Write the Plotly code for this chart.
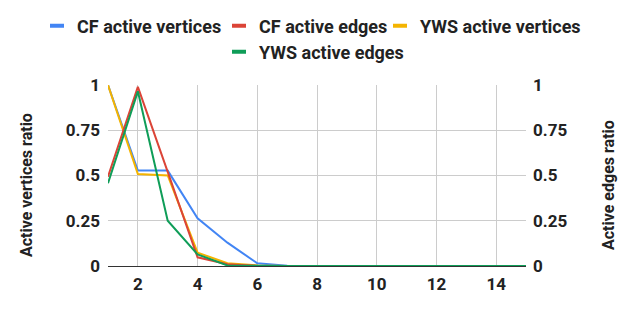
import plotly.graph_objects as go

iterations = list(range(1, 16))
cf_vertices = [1.0, 0.527, 0.527, 0.264, 0.129, 0.015, 0.002, 0, 0, 0, 0, 0, 0, 0, 0]
cf_edges = [0.493, 0.99, 0.52, 0.048, 0.01, 0.001, 0, 0, 0, 0, 0, 0, 0, 0, 0]
yws_vertices = [1.0, 0.508, 0.50, 0.074, 0.015, 0.003, 0, 0, 0, 0, 0, 0, 0, 0, 0]
yws_edges = [0.457, 0.965, 0.25, 0.064, 0.003, 0, 0, 0, 0, 0, 0, 0, 0, 0, 0]

series_names = ["CF active vertices", "CF active edges", "YWS active vertices", "YWS active edges"]
series_colors = ["#4285F4", "#DB4437", "#F4B400", "#0F9D58"]
series_axes = ["y", "y2", "y", "y2"]
series_values = [cf_vertices, cf_edges, yws_vertices, yws_edges]

y_ticks = [0, 0.25, 0.5, 0.75, 1]
y_tick_labels = ["0", "0.25", "0.5", "0.75", "1"]
x_ticks = [2, 4, 6, 8, 10, 12, 14]

# legend placement (container pixels): left edge of entry, row centre
legend_ids = ["legend", "legend2", "legend3", "legend4"]
legend_left_px = [29, 211, 372, 211]
legend_row_px = [18, 18, 18, 44]

fig = go.Figure()
for name, color, ax, vals in zip(series_names, series_colors, series_axes, series_values):
    fig.add_trace(go.Scatter(x=iterations, y=vals, name=name, mode="lines",
                             line=dict(color=color, width=2), yaxis=ax,
                             showlegend=False, legendgroup=name))
for name, color, lg in zip(series_names, series_colors, legend_ids):
    fig.add_trace(go.Scatter(x=[None], y=[None], name=name, mode="markers",
                             marker=dict(symbol="line-ew", size=10, color=color,
                                         line=dict(color=color, width=4)),
                             legend=lg, legendgroup=name, showlegend=True))

tickfont = dict(family="Roboto", size=17, color="#222222", weight="bold")
titlefont = dict(family="Roboto", size=16, color="#222222", weight="bold")
legendfont = dict(family="Roboto", size=18, color="#222222", weight="bold")

W, H = 635, 313
legends = {}
for lg, lx, ly in zip(legend_ids, legend_left_px, legend_row_px):
    legends[lg] = dict(orientation="h", x=lx / W, xanchor="left", xref="container",
                       y=1 - ly / H, yanchor="middle", yref="container",
                       font=legendfont, itemwidth=30, borderwidth=0,
                       bgcolor="rgba(0,0,0,0)")

fig.update_layout(
    width=W, height=H,
    margin=dict(l=100, r=117, t=77, b=55, autoexpand=False),
    plot_bgcolor="white", paper_bgcolor="white",
    font=dict(family="Roboto", color="#222222"),
    showlegend=True,
    xaxis=dict(range=[1, 15], tickvals=x_ticks, showgrid=True, gridcolor="#cccccc",
               zeroline=False, tickfont=tickfont, ticks="", showline=False,
               automargin=False, ticklabelstandoff=6),
    yaxis=dict(range=[0, 1], tickvals=y_ticks, ticktext=y_tick_labels, showgrid=True,
               gridcolor="#cccccc", zeroline=True, zerolinecolor="#333333", zerolinewidth=1,
               tickfont=tickfont, automargin=False, ticks="", ticklabelstandoff=7),
    yaxis2=dict(range=[0, 1], tickvals=y_ticks, ticktext=y_tick_labels, overlaying="y",
                side="right", showgrid=False, zeroline=False, tickfont=tickfont,
                automargin=False, ticks="", ticklabelstandoff=6),
    annotations=[
        dict(text="Active vertices ratio", textangle=-90, xref="paper", yref="paper",
             x=0, y=0.5, xanchor="center", yanchor="middle", xshift=-81.5, yshift=-10,
             showarrow=False, font=titlefont),
        dict(text="Active edges ratio", textangle=-90, xref="paper", yref="paper",
             x=1, y=0.5, xanchor="center", yanchor="middle", xshift=82.5, yshift=-10,
             showarrow=False, font=titlefont),
    ],
    **legends,
)
fig.write_html("out.html")
